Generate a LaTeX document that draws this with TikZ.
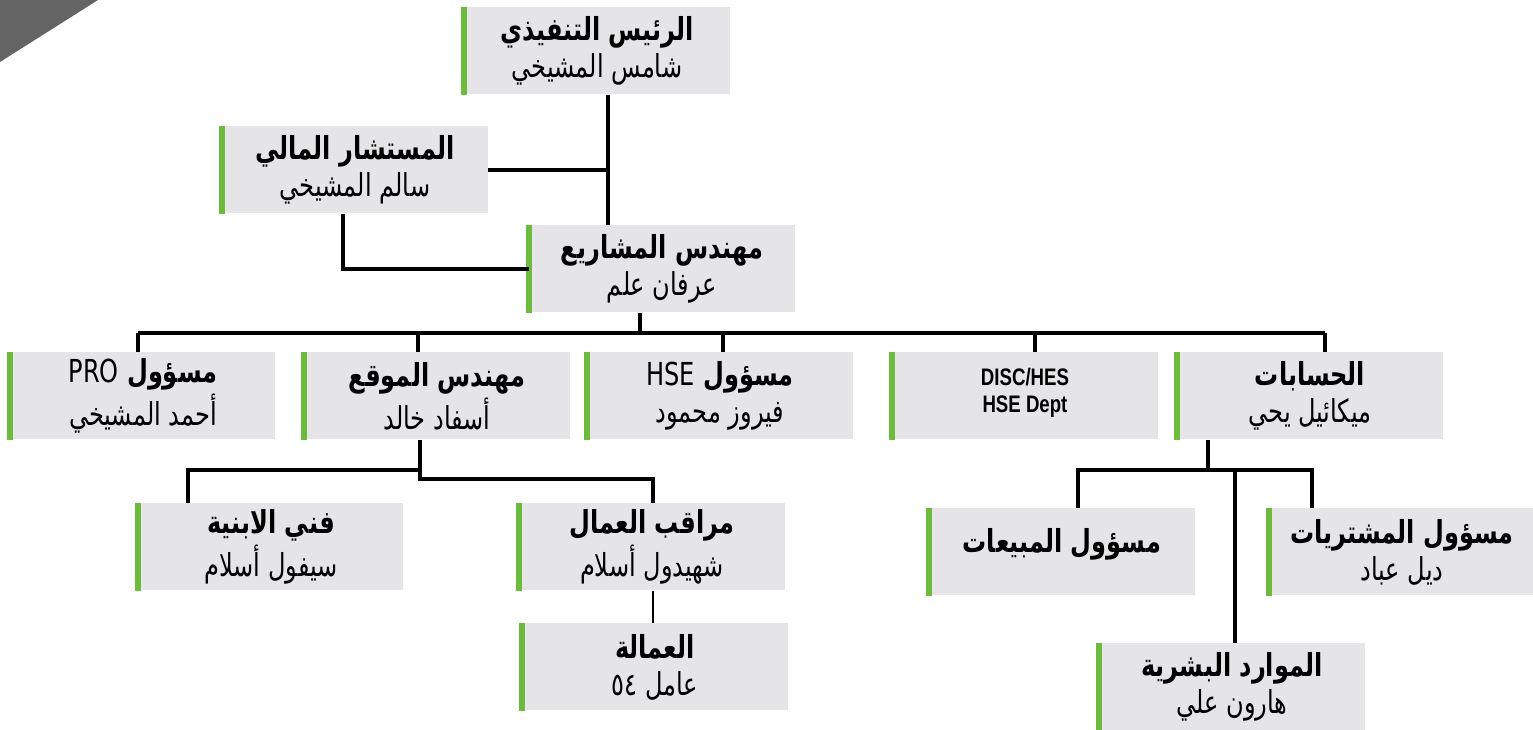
\documentclass[tikz,border=0pt]{standalone}
\usepackage{fontspec}
\newfontfamily\arabicfont[Script=Arabic,FakeStretch=0.76]{DejaVu Sans}
\newfontfamily\latinfont[FakeStretch=0.78]{Liberation Sans}
\TeXXeTstate=1
\usetikzlibrary{calc}
\definecolor{boxgray}{HTML}{E5E5E7}
\definecolor{bargreen}{HTML}{6CBB3C}
\definecolor{cornergray}{HTML}{646464}
\newcommand{\arb}[1]{\beginR #1\endR}

\begin{document}
\begin{tikzpicture}[x=0.1mm,y=-0.1mm,
  box/.style={fill=boxgray, minimum width=26.5mm, minimum height=8.7mm, inner sep=0pt,
    align=center, font=\arabicfont\fontsize{9}{10.5}\selectfont},
  bar/.style={bargreen, line width=0.6mm},
  link/.style={line width=1.1pt},
  thinlink/.style={line width=0.7pt}]
\useasboundingbox (0,0) rectangle (1533,730);
\fill[cornergray] (0,0) -- (98,0) -- (0,62) -- cycle;

% top of the chart
\node[box] (ceo) at (597,51) {\arb{\bfseries الرئيس التنفيذي}\\\arb{شامس المشيخي}};
\node[box] (fa) at (355,170) {\arb{\bfseries المستشار المالي}\\\arb{سالم المشيخي}};
\node[box] (pe) at (662,269) {\arb{\bfseries مهندس المشاريع}\\\arb{عرفان علم}};

% second row
\node[box] (pro) at (143,396) {\arb{\bfseries مسؤول \beginL\mdseries PRO\endL}\\\arb{أحمد المشيخي}};
\node[box] (site) at (437,396) {\arb{\bfseries مهندس الموقع}\\\arb{أسفاد خالد}};
\node[box] (hse) at (720,396) {\arb{\bfseries مسؤول \beginL\mdseries HSE\endL}\\\arb{فيروز محمود}};
\node[box, font=\latinfont\bfseries\fontsize{6.8}{7.6}\selectfont] (disc) at (1025,396) {DISC/HES\\HSE Dept\\[-4.2pt]};
\node[box] (acc) at (1310,396) {\arb{\bfseries الحسابات}\\\arb{ميكائيل يحي}};

% lower rows
\node[box] (bld) at (271,547) {\arb{\bfseries فني الابنية}\\\arb{سيفول أسلام}};
\node[box] (sup) at (652,547) {\arb{\bfseries مراقب العمال}\\\arb{شهيدول أسلام}};
\node[box] (lab) at (655,667) {\arb{\bfseries العمالة}\\\arb{عامل \beginL ٥٤\endL}};
\node[box] (sales) at (1062,552) {\arb{\bfseries مسؤول المبيعات}\\[-3.7pt]};
\node[box] (pur) at (1402,552) {\arb{\bfseries مسؤول المشتريات}\\\arb{ديل عباد}};
\node[box] (hr) at (1232,687) {\arb{\bfseries الموارد البشرية}\\\arb{هارون علي}};

\foreach \n in {ceo,fa,pe,pro,site,hse,disc,acc,bld,sup,lab,sales,pur,hr}
  \draw[bar] (\n.north west) -- (\n.south west);

% connectors
\coordinate (spine) at (608,95);
\draw[link] (spine) -- (spine |- pe.north);
\draw[link] (fa.east) -- (fa.east -| spine);
\draw[link] ([xshift=-1.2mm]fa.south) |- (pe.west);

\coordinate (bus) at (640,333);
\draw[link] (bus |- pe.south) -- (bus);
\foreach \n/\x in {pro/138,site/418,hse/723,disc/1035,acc/1325}{
  \coordinate (\n-drop) at (\x,333);
  \draw[link] (\n-drop) -- (\n-drop |- \n.north);
}
\draw[link] (pro-drop) -- (acc-drop);

\coordinate (sitefork) at (420,470);
\coordinate (bld-drop) at (188,470);
\coordinate (sup-drop) at (653,479);
\draw[link] (sitefork |- site.south) -- (sitefork |- sup-drop) -- (sup-drop) -- (sup-drop |- sup.north);
\draw[link] (sitefork) -- (bld-drop) -- (bld-drop |- bld.north);
\draw[thinlink] (sup-drop |- sup.south) -- (sup-drop |- lab.north);

\coordinate (accfork) at (1208,470);
\coordinate (sales-drop) at (1078,470);
\coordinate (pur-drop) at (1312,470);
\coordinate (hr-drop) at (1235,470);
\draw[link] (accfork |- acc.south) -- (accfork);
\draw[link] (sales-drop |- sales.north) -- (sales-drop) -- (pur-drop) -- (pur-drop |- pur.north);
\draw[link] (hr-drop) -- (hr-drop |- hr.north);
\end{tikzpicture}
\end{document}
